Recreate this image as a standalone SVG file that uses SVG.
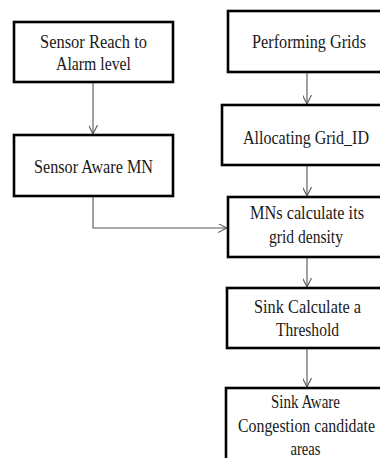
<svg xmlns="http://www.w3.org/2000/svg" width="380" height="458" viewBox="0 0 380 458">
<defs>
<style>
.box{fill:#fff;stroke:#000;stroke-width:2.6}
.t{font-size:19px;fill:#1a1a1a;text-anchor:middle}
.c{fill:none;stroke:#555;stroke-width:1.1}
</style>
<marker id="ah" viewBox="0 0 10 10" refX="10" refY="5" markerWidth="9" markerHeight="9" markerUnits="userSpaceOnUse" orient="auto">
<path d="M0,0 L10,5 L0,10" fill="none" stroke="#555" stroke-width="1.2"/>
</marker>
</defs>
<rect width="380" height="458" fill="#fff"/>
<g id="connectors">
<line class="c" x1="93" y1="82" x2="93" y2="134" marker-end="url(#ah)"/>
<polyline class="c" points="93,196 93,228 227,228" marker-end="url(#ah)"/>
<line class="c" x1="307" y1="72" x2="307" y2="104" marker-end="url(#ah)"/>
<line class="c" x1="307" y1="165" x2="307" y2="196" marker-end="url(#ah)"/>
<line class="c" x1="307" y1="257" x2="307" y2="287" marker-end="url(#ah)"/>
<line class="c" x1="307" y1="348" x2="307" y2="387" marker-end="url(#ah)"/>
</g>
<g font-family="Liberation Serif, Times New Roman, serif">
<g id="sensor-reach">
<rect class="box" x="14" y="22" width="159" height="60"/>
<text class="t" x="93.5" y="48" textLength="107" lengthAdjust="spacingAndGlyphs">Sensor Reach to</text>
<text class="t" x="93.5" y="70" textLength="75" lengthAdjust="spacingAndGlyphs">Alarm level</text>
</g>
<g id="sensor-aware">
<rect class="box" x="14" y="135" width="159" height="61"/>
<text class="t" x="93.5" y="173" textLength="119" lengthAdjust="spacingAndGlyphs">Sensor Aware MN</text>
</g>
<g id="performing-grids">
<rect class="box" x="228" y="11" width="160" height="61"/>
<text class="t" x="309" y="48" textLength="114" lengthAdjust="spacingAndGlyphs">Performing Grids</text>
</g>
<g id="allocating">
<rect class="box" x="222" y="105" width="166" height="60"/>
<text class="t" x="306" y="144" textLength="126" lengthAdjust="spacingAndGlyphs">Allocating Grid_ID</text>
</g>
<g id="mns-calc">
<rect class="box" x="228" y="197" width="160" height="60"/>
<text class="t" x="307" y="219" textLength="114" lengthAdjust="spacingAndGlyphs">MNs calculate its</text>
<text class="t" x="306" y="243" textLength="74" lengthAdjust="spacingAndGlyphs">grid density</text>
</g>
<g id="sink-threshold">
<rect class="box" x="227" y="288" width="161" height="60"/>
<text class="t" x="307.5" y="313" textLength="107" lengthAdjust="spacingAndGlyphs">Sink Calculate a</text>
<text class="t" x="307.5" y="336" textLength="63" lengthAdjust="spacingAndGlyphs">Threshold</text>
</g>
<g id="sink-aware">
<rect class="box" x="226" y="388" width="162" height="80"/>
<text class="t" x="305.5" y="408" textLength="69" lengthAdjust="spacingAndGlyphs">Sink Aware</text>
<text class="t" x="306.5" y="432" textLength="137" lengthAdjust="spacingAndGlyphs">Congestion candidate</text>
<text class="t" x="305.5" y="455" textLength="30" lengthAdjust="spacingAndGlyphs">areas</text>
</g>
</g>
</svg>
